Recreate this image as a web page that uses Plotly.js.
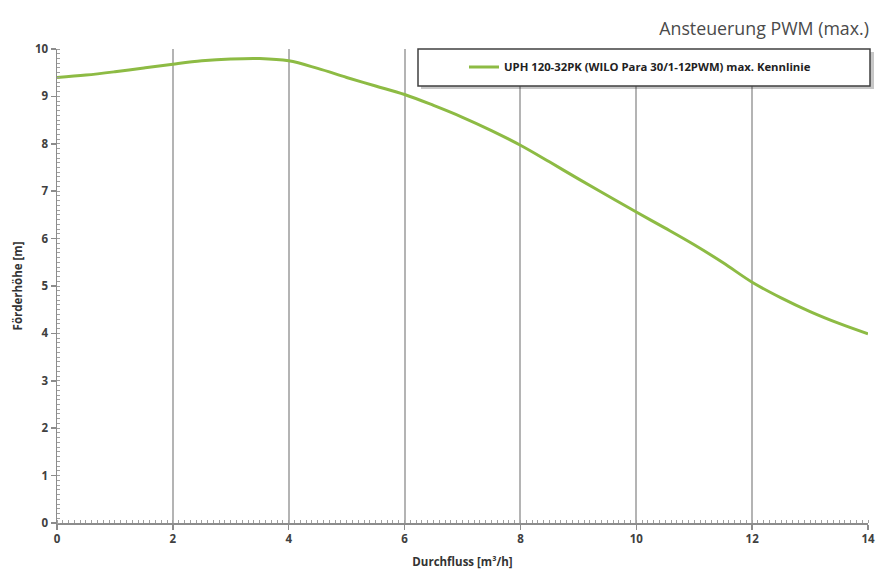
<!DOCTYPE html>
<html>
<head>
<meta charset="utf-8">
<script src="https://cdn.plot.ly/plotly-3.0.1.min.js"></script>
<style>html,body{margin:0;padding:0;background:#fff;}#chart{width:876px;height:572px;}</style>
</head>
<body>
<div id="chart"></div>
<script>
const seriesName = "UPH 120-32PK (WILO Para 30/1-12PWM) max. Kennlinie";
const flow = [0, 0.5, 1, 1.5, 2, 2.5, 3, 3.5, 4, 4.5, 5, 5.5, 6, 6.5, 7, 7.5, 8, 8.5, 9, 9.5, 10, 10.5, 11, 11.5, 12, 12.5, 13, 13.5, 14];
const head = [9.40, 9.45, 9.52, 9.60, 9.68, 9.75, 9.79, 9.80, 9.75, 9.59, 9.40, 9.22, 9.04, 8.81, 8.56, 8.28, 7.97, 7.62, 7.26, 6.91, 6.56, 6.22, 5.87, 5.49, 5.08, 4.75, 4.46, 4.21, 3.99];
const xTicks = [0, 2, 4, 6, 8, 10, 12, 14];
const yTicks = [0, 1, 2, 3, 4, 5, 6, 7, 8, 9, 10];

const tickFont = {family: "Open Sans, DejaVu Sans, sans-serif", size: 11.5, color: "#404040", weight: "bold"};
const data = [{
  x: flow, y: head, type: "scatter", mode: "lines", name: seriesName,
  line: {color: "#8dbb44", width: 3, shape: "spline", smoothing: 1},
  hoverinfo: "skip"
}];
const layout = {
  width: 876, height: 572,
  margin: {l: 57, r: 8, t: 49, b: 49},
  paper_bgcolor: "#fff", plot_bgcolor: "#fff",
  showlegend: true,
  title: {text: "Ansteuerung PWM (max.)", x: 0.992, xanchor: "right", y: 0.949, yanchor: "middle",
    font: {family: "Open Sans, DejaVu Sans, sans-serif", size: 17.8, color: "#4a4a4a"}},
  xaxis: {
    range: [0, 14], tickvals: xTicks, ticktext: xTicks.map(String),
    showgrid: true, gridcolor: "#b4b4b4", gridwidth: 2,
    zeroline: false, showline: true, linecolor: "#8c8c8c", linewidth: 1.5,
    ticks: "outside", ticklen: 5, tickcolor: "#8c8c8c", tickwidth: 1.5,
    minor: {dtick: 0.1, ticks: "inside", ticklen: 3, tickcolor: "#a0a0a0", tickwidth: 1, showgrid: false},
    tickfont: tickFont,
    title: {text: "Durchfluss [m³/h]", standoff: 12, font: {family: "Open Sans, DejaVu Sans, sans-serif", size: 11.5, color: "#333", weight: "bold"}},
    fixedrange: true
  },
  yaxis: {
    range: [0, 10], tickvals: yTicks, ticktext: yTicks.map(String),
    showgrid: false, zeroline: false, showline: true, linecolor: "#8c8c8c", linewidth: 1.5,
    ticks: "outside", ticklen: 5, tickcolor: "#8c8c8c", tickwidth: 1.5,
    minor: {dtick: 0.1, ticks: "inside", ticklen: 3, tickcolor: "#a0a0a0", tickwidth: 1, showgrid: false},
    tickfont: tickFont,
    title: {text: "Förderhöhe [m]", standoff: 10, font: {family: "Open Sans, DejaVu Sans, sans-serif", size: 11.5, color: "#333", weight: "bold"}},
    fixedrange: true
  },
  shapes: [
    {type: "rect", xref: "paper", yref: "paper", x0: (421-57)/811, x1: (874-57)/811, y0: (523-89)/474, y1: (523-52)/474,
      fillcolor: "rgba(0,0,0,0.22)", line: {width: 0}, layer: "above"},
    {type: "rect", xref: "paper", yref: "paper", x0: (418-57)/811, x1: (870-57)/811, y0: (523-86)/474, y1: (523-49)/474,
      fillcolor: "#fff", line: {color: "#404040", width: 1.5}, layer: "above"}
  ],
  legend: {x: (464-57)/811, xanchor: "left", y: (523-67)/474, yanchor: "middle",
    bgcolor: "rgba(0,0,0,0)", borderwidth: 0, itemwidth: 30,
    font: {family: "Open Sans, DejaVu Sans, sans-serif", size: 11.3, color: "#222", weight: "bold"}}
};
Plotly.newPlot("chart", data, layout, {displayModeBar: false, staticPlot: true});
</script>
</body>
</html>
